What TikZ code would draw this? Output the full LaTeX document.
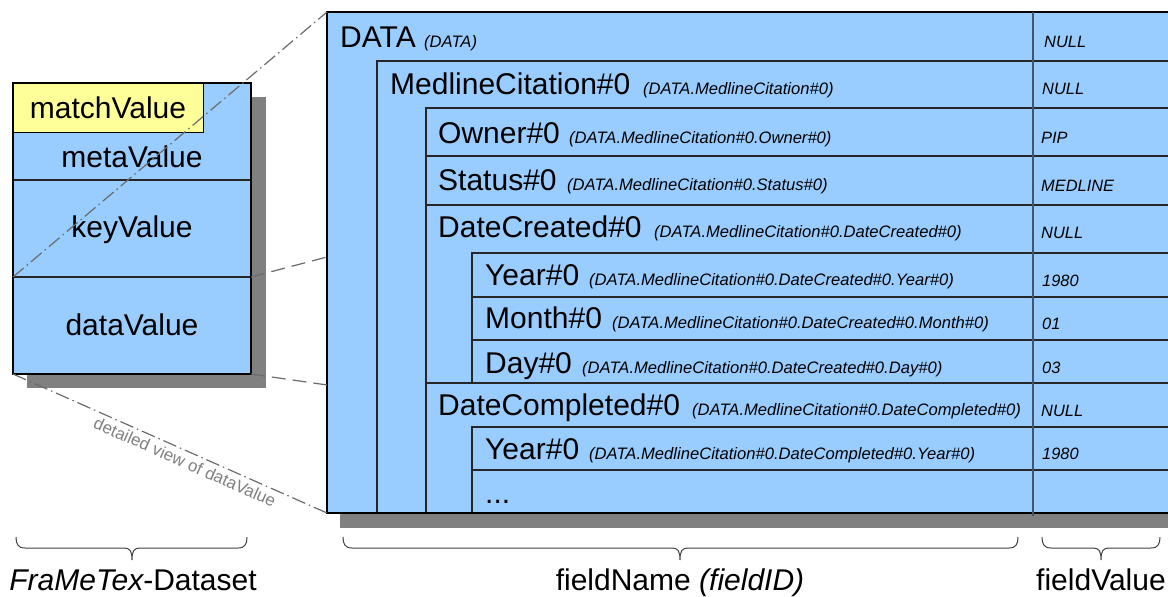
\documentclass[tikz,border=0pt]{standalone}
\usepackage{fontspec}
\setmainfont{Liberation Sans}
\definecolor{boxblue}{RGB}{153,204,255}
\definecolor{matchyellow}{RGB}{255,255,153}
\definecolor{shadowgray}{RGB}{128,128,128}
\definecolor{colline}{RGB}{65,85,110}
\newcommand{\fmbrace}[4]{% x1, xm, x2, y
  \draw[brc] (#1,#4) .. controls (#1,{#4+7}) and ({#1+2},{#4+11}) .. ({#1+9},{#4+11})
    -- ({#2-8},{#4+11}) .. controls ({#2-2},{#4+11}) and (#2,{#4+14}) .. (#2,{#4+23})
    .. controls (#2,{#4+14}) and ({#2+2},{#4+11}) .. ({#2+8},{#4+11})
    -- ({#3-9},{#4+11}) .. controls ({#3-2},{#4+11}) and (#3,{#4+7}) .. (#3,#4);}
\begin{document}
\begin{tikzpicture}[x=1pt,y=-1pt,
  lbl/.style={font=\fontsize{30}{34}\selectfont, inner sep=0pt, anchor=base},
  big/.style={font=\fontsize{30}{34}\selectfont, inner sep=0pt, anchor=base west},
  sub/.style={font=\fontsize{16.6}{19}\selectfont\itshape, inner sep=0pt, anchor=base west},
  val/.style={font=\fontsize{16.4}{19}\selectfont\itshape, inner sep=0pt, anchor=base west},
  cell/.style={draw=black!85, line width=1.2pt},
  conn/.style={draw=black!58, line width=1.2pt},
  dashdot/.style={conn, dash pattern=on 14pt off 4pt on 1.5pt off 4pt},
  dashlong/.style={conn, dash pattern=on 14pt off 7pt},
  brc/.style={draw=black!75, line width=1pt}
]
\useasboundingbox (0,0) rectangle (1168,597);
\clip (0,0) rectangle (1168,597);

% ---------- left box (FraMeTex dataset)
\fill[shadowgray] (27,97) rectangle (266,388);
\fill[boxblue] (13,83) rectangle (251,374);
\filldraw[fill=matchyellow, draw=black, line width=1pt] (13,83) rectangle (203,132);
\draw[cell] (13,180) -- (251,180);
\draw[cell] (13,277) -- (251,277);
\draw[black, line width=2pt] (13,83) rectangle (251,374);
\node[lbl] (match) at (108,118) {matchValue};
\node[lbl] (meta) at (132,167) {metaValue};
\node[lbl] (key) at (132,237) {keyValue};
\node[lbl] (dval) at (132,335) {dataValue};
\coordinate (dvTL) at (13,277);
\coordinate (dvTR) at (251,277);
\coordinate (dvBR) at (251,374);
\coordinate (dvBL) at (13,374);

% ---------- big box (detailed view)
\fill[shadowgray] (340,25) rectangle (1185,528);
\fill[boxblue] (327,12) rectangle (1185,513);
\draw[cell] (377,513) -- (377,61) -- (1185,61);
\draw[cell] (426,513) -- (426,108) -- (1185,108);
\draw[cell] (426,156) -- (1185,156);
\draw[cell] (426,205) -- (1185,205);
\draw[cell] (472,383) -- (472,253) -- (1185,253);
\draw[cell] (472,297) -- (1185,297);
\draw[cell] (472,340) -- (1185,340);
\draw[cell] (426,383) -- (1185,383);
\draw[cell] (472,513) -- (472,427) -- (1185,427);
\draw[cell] (472,470) -- (1185,470);
\draw[black, line width=2.5pt] (327,12) rectangle (1185,513);
\draw[colline, line width=2pt] (1033,12) -- (1033,516);
\coordinate (bbTL) at (327,12);
\coordinate (bbL1) at (327,257);
\coordinate (bbL2) at (327,385);
\coordinate (bbBL) at (327,513);

% field names
\node[big] (n1) at (340,47) {DATA};
\node[sub] (i1) at (424,47) {(DATA)};
\node[big] (n2) at (390,94) {MedlineCitation\#0};
\node[sub] (i2) at (643,94) {(DATA.MedlineCitation\#0)};
\node[big] (n3) at (438,143) {Owner\#0};
\node[sub] (i3) at (569,143) {(DATA.MedlineCitation\#0.Owner\#0)};
\node[big] (n4) at (438,190) {Status\#0};
\node[sub] (i4) at (567,190) {(DATA.MedlineCitation\#0.Status\#0)};
\node[big] (n5) at (438,237) {DateCreated\#0};
\node[sub] (i5) at (654,237) {(DATA.MedlineCitation\#0.DateCreated\#0)};
\node[big] (n6) at (485,285) {Year\#0};
\node[sub] (i6) at (589,285) {(DATA.MedlineCitation\#0.DateCreated\#0.Year\#0)};
\node[big] (n7) at (485,328) {Month\#0};
\node[sub] (i7) at (612,328) {(DATA.MedlineCitation\#0.DateCreated\#0.Month\#0)};
\node[big] (n8) at (485,373) {Day\#0};
\node[sub] (i8) at (582,373) {(DATA.MedlineCitation\#0.DateCreated\#0.Day\#0)};
\node[big] (n9) at (438,415) {DateCompleted\#0};
\node[sub] (i9) at (692,415) {(DATA.MedlineCitation\#0.DateCompleted\#0)};
\node[big] (n10) at (485,459) {Year\#0};
\node[sub] (i10) at (589,459) {(DATA.MedlineCitation\#0.DateCompleted\#0.Year\#0)};
\node[big] (n11) at (485,503) {...};

% field values
\node[val] (v1) at (1044,47) {NULL};
\node[val] (v2) at (1042,94) {NULL};
\node[val] (v3) at (1041,143) {PIP};
\node[val] (v4) at (1041,191) {MEDLINE};
\node[val] (v5) at (1041,238) {NULL};
\node[val] (v6) at (1042,286) {1980};
\node[val] (v7) at (1042,329) {01};
\node[val] (v8) at (1042,373) {03};
\node[val] (v9) at (1041,416) {NULL};
\node[val] (v10) at (1042,459) {1980};

% ---------- connectors
\draw[dashdot] (dvTL) -- (bbTL);
\draw[dashlong] (dvTR) -- (bbL1);
\draw[dashlong] (dvBR) -- (bbL2);
\draw[dashdot] (dvBL) -- (bbBL);
\node[text=black!50, font=\fontsize{17}{20}\selectfont, rotate=-24, inner sep=0pt] (dview) at (185,462) {detailed view of dataValue};

% ---------- braces and captions
\fmbrace{16}{132}{247}{537}
\fmbrace{343}{680}{1018}{537}
\fmbrace{1042}{1101}{1160}{537}
\node[lbl] (cap1) at (133,590) {\itshape FraMeTex\upshape-Dataset};
\node[lbl] (cap2) at (680,590) {fieldName \itshape(fieldID)};
\node[lbl] (cap3) at (1101,590) {fieldValue};
\end{tikzpicture}
\end{document}
